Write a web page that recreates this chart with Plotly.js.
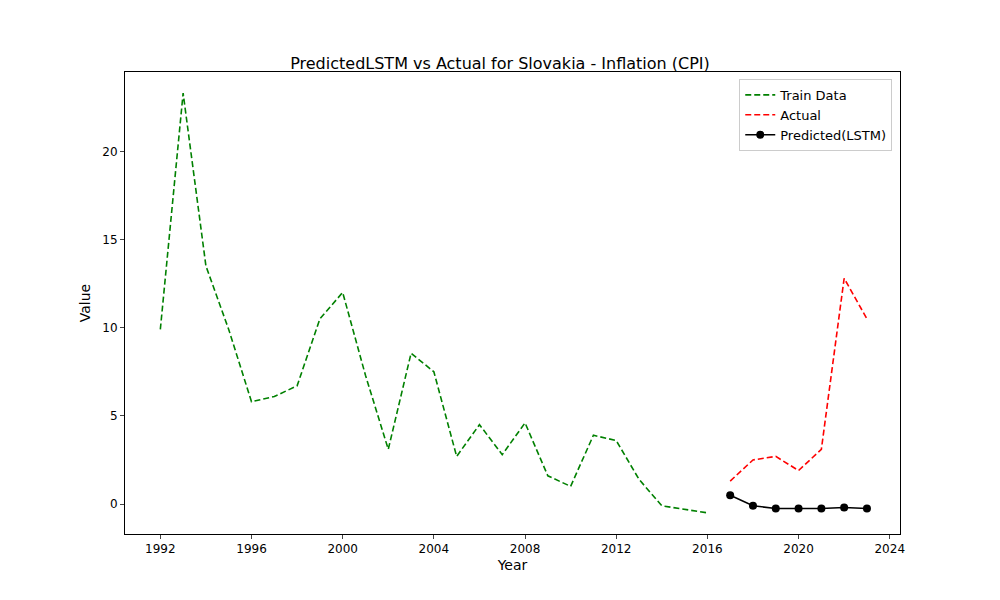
<!DOCTYPE html>
<html><head><script src="https://cdn.plot.ly/plotly-3.0.1.min.js"></script></head>
<body style="margin:0"><div id="c" style="width:1000px;height:600px"></div>
<script>
const trainYears=[1992,1993,1994,1995,1996,1997,1998,1999,2000,2001,2002,2003,2004,2005,2006,2007,2008,2009,2010,2011,2012,2013,2014,2015,2016];
const trainVals=[9.9,23.3,13.5,9.9,5.8,6.1,6.7,10.5,12.0,7.3,3.1,8.55,7.5,2.7,4.5,2.8,4.6,1.6,1.0,3.9,3.6,1.4,-0.1,-0.3,-0.5];
const testYears=[2017,2018,2019,2020,2021,2022,2023];
const actualVals=[1.3,2.5,2.7,1.9,3.1,12.8,10.5];
const predVals=[0.5,-0.1,-0.25,-0.25,-0.25,-0.2,-0.25];
const xTicks=[1992,1996,2000,2004,2008,2012,2016,2020,2024];
Plotly.newPlot('c',[
{x:trainYears,y:trainVals,mode:'lines',name:'Train Data',line:{color:'green',dash:'6px,3px',width:1.6}},
{x:testYears,y:actualVals,mode:'lines',name:'Actual',line:{color:'red',dash:'6px,3px',width:1.6}},
{x:testYears,y:predVals,mode:'lines+markers',name:'Predicted(LSTM)',line:{color:'black',width:1.6},marker:{size:8,color:'black'}}
],{
width:1000,height:600,margin:{l:125,r:100,t:72,b:66},
paper_bgcolor:'white',plot_bgcolor:'white',
font:{family:'DejaVu Sans',size:12,color:'black'},
title:{text:'PredictedLSTM vs Actual for Slovakia - Inflation (CPI)',x:0.5,xanchor:'center',y:0.885,yanchor:'bottom',font:{size:16}},
xaxis:{range:[1990.45,2024.45],tickvals:xTicks,showgrid:false,zeroline:false,showline:true,mirror:true,linecolor:'black',ticks:'outside',ticklen:4,title:{text:'Year',standoff:4}},
yaxis:{range:[-1.7,24.5],tickvals:[0,5,10,15,20],showgrid:false,zeroline:false,showline:true,mirror:true,linecolor:'black',ticks:'outside',ticklen:4,title:{text:'Value',standoff:8}},
legend:{x:0.99,y:0.985,xanchor:'right',yanchor:'top',bordercolor:'#ccc',borderwidth:1,font:{size:13},tracegroupgap:0},
showlegend:true
},{displayModeBar:false});
</script></body></html>
